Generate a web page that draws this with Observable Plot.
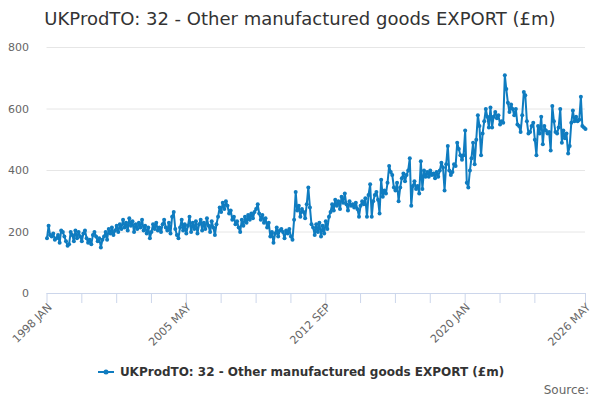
<!DOCTYPE html>
<html>
<head>
<meta charset="utf-8">
<script src="https://cdn.jsdelivr.net/npm/d3@7"></script>
<script src="https://cdn.jsdelivr.net/npm/@observablehq/plot@0.6"></script>
<style>
  html, body { margin: 0; padding: 0; background: #fff; }
  #wrap { position: relative; width: 600px; height: 400px; font-family: "DejaVu Sans", sans-serif; overflow: hidden; }
  #chart { position: absolute; left: 0; top: 0; }
  #title { position: absolute; left: 0; top: 8px; width: 600px; text-align: center; font-size: 18px; color: #333; }
  #legend { position: absolute; left: 0; top: 365px; width: 600px; display: flex; justify-content: center; align-items: center; font-size: 12px; font-weight: bold; color: #333; }
  #source { position: absolute; right: 11px; top: 383px; font-size: 12px; color: #666; }
</style>
</head>
<body>
<div id="wrap">
  <div id="chart"></div>
  <div id="title">UKProdTO: 32 - Other manufactured goods EXPORT (£m)</div>
  <div id="legend"><svg width="20" height="12" style="margin-right:4px"><line x1="2" y1="6" x2="18" y2="6" stroke="#0f7cc0" stroke-width="2"/><circle cx="10" cy="6" r="2.5" fill="#0f7cc0"/></svg><span>UKProdTO: 32 - Other manufactured goods EXPORT (£m)</span></div>
  <div id="source">Source:</div>
</div>
<script>
const y1998 = [180, 220, 190, 185, 195, 175, 180, 190, 165, 205, 200, 185];
const y1999 = [170, 155, 160, 200, 190, 170, 205, 180, 200, 185, 170, 195];
const y2000 = [205, 180, 165, 175, 160, 190, 200, 185, 170, 180, 150, 175];
const y2001 = [185, 200, 175, 210, 195, 215, 190, 205, 220, 200, 225, 210];
const y2002 = [240, 215, 230, 205, 245, 220, 235, 200, 225, 210, 230, 215];
const y2003 = [240, 205, 220, 195, 215, 180, 200, 225, 210, 230, 205, 215];
const y2004 = [200, 225, 240, 215, 205, 230, 195, 250, 265, 210, 190, 180];
const y2005 = [215, 240, 205, 225, 195, 220, 250, 200, 230, 210, 235, 195];
const y2006 = [225, 240, 205, 230, 210, 245, 220, 200, 235, 215, 190, 225];
const y2007 = [250, 280, 265, 295, 275, 300, 285, 260, 270, 240, 250, 225];
const y2008 = [235, 215, 200, 240, 220, 250, 230, 255, 240, 260, 245, 265];
const y2009 = [275, 290, 260, 240, 255, 230, 245, 215, 230, 185, 200, 165];
const y2010 = [195, 215, 185, 205, 210, 200, 180, 205, 195, 210, 185, 175];
const y2011 = [240, 330, 270, 285, 250, 275, 265, 245, 290, 345, 280, 225];
const y2012 = [215, 190, 225, 200, 230, 185, 220, 195, 235, 210, 250, 265];
const y2013 = [290, 270, 305, 285, 300, 275, 315, 295, 325, 290, 270, 300];
const y2014 = [285, 290, 280, 295, 275, 250, 285, 300, 290, 310, 250, 320];
const y2015 = [355, 250, 300, 320, 330, 305, 260, 370, 315, 335, 325, 360];
const y2016 = [415, 395, 385, 345, 335, 360, 300, 345, 375, 390, 365, 385];
const y2017 = [400, 440, 285, 350, 365, 340, 350, 325, 430, 340, 400, 380];
const y2018 = [395, 380, 400, 385, 390, 375, 395, 380, 400, 425, 410, 335];
const y2019 = [420, 480, 400, 385, 395, 420, 415, 490, 470, 450, 435, 450];
const y2020 = [530, 360, 345, 400, 440, 490, 420, 500, 580, 545, 450, 520];
const y2021 = [560, 600, 575, 540, 605, 540, 575, 590, 570, 580, 550, 560];
const y2022 = [555, 710, 665, 620, 590, 615, 600, 580, 600, 550, 545, 525];
const y2023 = [580, 655, 645, 560, 520, 525, 545, 555, 500, 450, 545, 520];
const y2024 = [575, 485, 545, 530, 520, 525, 465, 610, 560, 525, 520, 540];
const y2025 = [600, 490, 530, 505, 520, 455, 480, 555, 595, 560, 575, 560];
const y2026 = [565, 640, 545, 540, 535];

const yTicks = [0, 200, 400, 600, 800];
const tickLabels = ["1998 JAN", "2005 MAY", "2012 SEP", "2020 JAN", "2026 MAY"];
const tickMonthOffsets = [0, 22, 44, 66, 88, 110, 132, 154, 176, 198, 220, 242, 264, 286, 308, 340];

const values = [].concat(y1998, y1999, y2000, y2001, y2002, y2003, y2004, y2005, y2006, y2007,
  y2008, y2009, y2010, y2011, y2012, y2013, y2014, y2015, y2016, y2017, y2018, y2019, y2020,
  y2021, y2022, y2023, y2024, y2025, y2026);
const data = values.map((v, i) => ({ date: new Date(Date.UTC(1998, i, 1)), value: v }));

const monthNames = ["JAN","FEB","MAR","APR","MAY","JUN","JUL","AUG","SEP","OCT","NOV","DEC"];
const parseLabel = s => { const [y, m] = s.split(" "); return new Date(Date.UTC(+y, monthNames.indexOf(m), 1)); };
const labelDates = tickLabels.map(parseLabel);
const tickDates = tickMonthOffsets.map(o => new Date(Date.UTC(1998, o, 1)));
const fmt = d => d.getUTCFullYear() + " " + monthNames[d.getUTCMonth()];

const color = "#0f7cc0";
const chart = Plot.plot({
  width: 600,
  height: 400,
  marginTop: 47,
  marginBottom: 107,
  marginLeft: 46.5,
  marginRight: 15,
  style: { fontFamily: "DejaVu Sans, sans-serif", background: "transparent", overflow: "visible" },
  x: { type: "utc", domain: [data[0].date, data[data.length - 1].date] },
  y: { domain: [0, 800] },
  marks: [
    Plot.gridY(yTicks.slice(1), { stroke: "#e6e6e6", strokeOpacity: 1 }),
    Plot.axisY(yTicks, { tickSize: 0, tickPadding: 18, fill: "#666", fontSize: 11, label: null }),
    Plot.ruleY([0], { stroke: "#ccd6eb" }),
    Plot.axisX(tickDates, { tickSize: 10, stroke: "#ccd6eb", strokeOpacity: 1, tickFormat: () => "", label: null }),
    Plot.axisX(labelDates, { tickSize: 0, tickRotate: -45, tickPadding: 10, dx: 3, dy: 2, tickFormat: fmt, fill: "#666", fontSize: 11, label: null }),
    Plot.line(data, { x: "date", y: "value", stroke: color, strokeWidth: 2 }),
    Plot.dot(data, { x: "date", y: "value", r: 2, fill: color })
  ]
});
document.getElementById("chart").appendChild(chart);
</script>
</body>
</html>
